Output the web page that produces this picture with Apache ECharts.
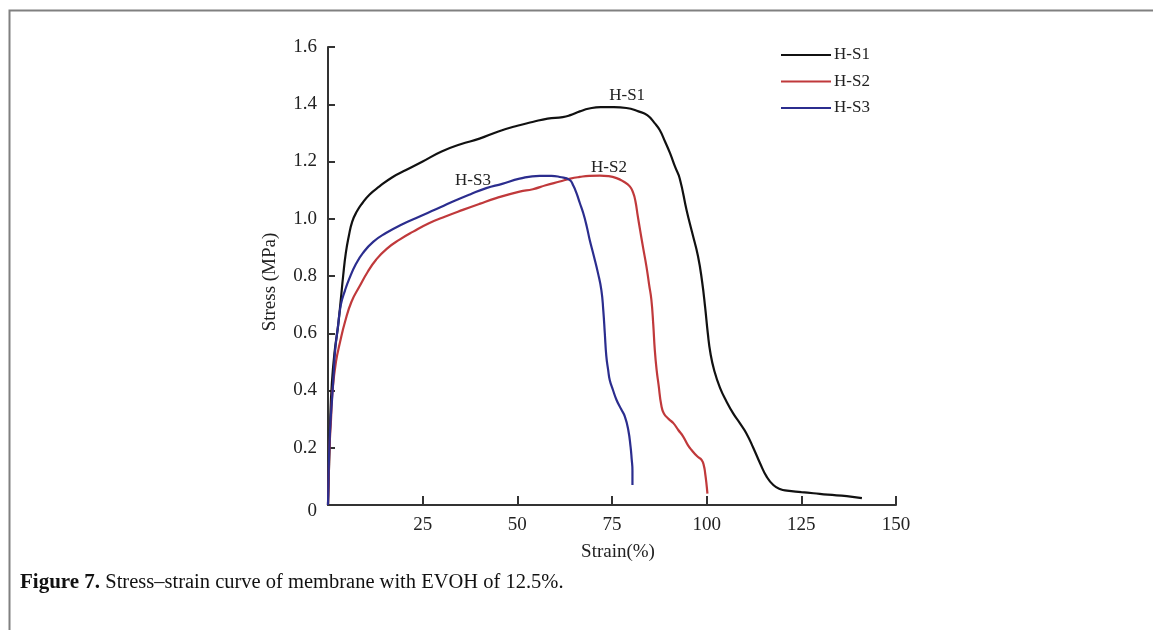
<!DOCTYPE html>
<html>
<head>
<meta charset="utf-8">
<script src="https://cdn.jsdelivr.net/npm/echarts@6.0.0/dist/echarts.min.js"></script>
<style>
  html, body { margin: 0; padding: 0; background: #fff; }
  #chart { width: 1153px; height: 630px; }
</style>
</head>
<body>
<div id="chart"></div>
<script>
// strain (%) vs stress (MPa)
const hs1 = [
  [0, 0], [0.3, 0.15], [0.6, 0.3], [1.0, 0.42], [1.7, 0.53], [2.7, 0.63], [3.4, 0.72],
  [4.0, 0.8], [4.7, 0.88], [5.5, 0.94], [6.4, 0.99], [7.6, 1.025], [9.1, 1.055], [11, 1.085],
  [13.6, 1.113], [17, 1.145], [20.6, 1.17], [25, 1.2], [30, 1.235], [35, 1.26], [40, 1.28],
  [45, 1.305], [50, 1.325], [54, 1.338], [58, 1.35], [62, 1.355], [64, 1.362], [66.5, 1.375],
  [69, 1.385], [72, 1.39], [75.5, 1.39], [78.8, 1.387], [82, 1.375], [84.3, 1.362],
  [86.2, 1.335], [87.6, 1.31], [89, 1.27], [90.3, 1.23], [91.7, 1.18], [92.9, 1.14],
  [94.7, 1.03], [96.2, 0.95], [97.7, 0.87], [98.8, 0.78], [99.6, 0.69], [100.3, 0.6],
  [101, 0.53], [102, 0.47], [103.5, 0.41], [105.3, 0.36], [107, 0.32], [108.8, 0.285],
  [110.5, 0.25], [112.3, 0.2], [114.1, 0.146], [115.8, 0.1], [117.6, 0.07], [119.5, 0.055],
  [121.2, 0.05], [125, 0.045], [128.2, 0.041], [132, 0.036], [137, 0.031], [141, 0.024]
];
const hs2 = [
  [0, 0], [0.2, 0.1], [0.4, 0.2], [0.8, 0.3], [1.2, 0.4], [2.1, 0.5], [3.2, 0.57],
  [4.5, 0.64], [6.2, 0.71], [8.3, 0.763], [10.5, 0.815], [12.7, 0.857], [15.5, 0.895],
  [18.9, 0.927], [22.5, 0.955], [26.8, 0.985], [31, 1.008], [35.6, 1.031], [40, 1.052],
  [44.4, 1.072], [50.6, 1.095], [54.1, 1.103], [57.5, 1.117], [61.2, 1.13], [64, 1.14],
  [66.5, 1.146], [69, 1.15], [71.8, 1.151], [74, 1.149], [76.2, 1.142], [78, 1.13],
  [79.7, 1.113], [80.6, 1.09], [81.2, 1.06], [81.8, 1.01], [82.4, 0.962], [83.2, 0.9],
  [84.1, 0.833], [84.8, 0.77], [85.4, 0.717], [85.9, 0.63], [86.3, 0.542], [86.8, 0.47],
  [87.3, 0.42], [88, 0.35], [88.7, 0.32], [90, 0.3], [91.2, 0.286], [92.5, 0.262],
  [93.8, 0.239], [95, 0.21], [96, 0.192], [97.5, 0.17], [98.7, 0.157], [99.3, 0.135],
  [99.6, 0.111], [99.9, 0.08], [100.2, 0.04]
];
const hs3 = [
  [0, 0], [0.15, 0.1], [0.35, 0.2], [0.7, 0.3], [1.06, 0.367], [1.5, 0.46], [1.9, 0.542],
  [2.6, 0.62], [3.4, 0.7], [4.5, 0.75], [5.6, 0.79], [7.3, 0.84], [9.2, 0.88], [12, 0.92],
  [15.3, 0.95], [19.5, 0.98], [24.2, 1.008], [28.5, 1.033], [33, 1.06], [37.5, 1.085],
  [41.8, 1.107], [46, 1.122], [50.6, 1.14], [55.9, 1.15], [59, 1.15], [61.2, 1.146],
  [63.8, 1.136], [64.8, 1.115], [65.6, 1.09], [66.5, 1.055], [67.4, 1.02], [68.3, 0.975],
  [69.1, 0.927], [70.2, 0.87], [71.3, 0.81], [72.2, 0.75], [72.7, 0.68], [73.1, 0.6],
  [73.5, 0.52], [74, 0.47], [74.4, 0.437], [75.3, 0.4], [76.2, 0.367], [77.4, 0.335],
  [78.4, 0.309], [79.3, 0.262], [79.9, 0.204], [80.2, 0.16], [80.4, 0.12], [80.4, 0.07]
];

const seriesNames = ["H-S1", "H-S2", "H-S3"];
const seriesColors = ["#111111", "#c0393b", "#2b2d8e"];
// in-plot labels: [strain, stress]
const labelPos = [[79.0, 1.43], [74.2, 1.18], [38.3, 1.133]];

const serif = "'Liberation Serif', 'DejaVu Serif', serif";
const chart = echarts.init(document.getElementById("chart"));

const series = [hs1, hs2, hs3].map((data, i) => ({
  name: seriesNames[i],
  type: "line",
  data,
  smooth: 0.5,
  showSymbol: false,
  symbol: "none",
  lineStyle: { color: seriesColors[i], width: 2.2 },
  itemStyle: { color: seriesColors[i] },
  markPoint: {
    symbol: "rect",
    symbolSize: 1,
    silent: true,
    itemStyle: { color: "rgba(0,0,0,0)" },
    data: [{ coord: labelPos[i], value: seriesNames[i] }],
    label: {
      show: true,
      formatter: seriesNames[i],
      position: "inside",
      color: "#222",
      fontFamily: serif,
      fontSize: 17,
    },
  },
}));

chart.setOption({
  backgroundColor: "#fff",
  animation: false,
  grid: { left: 328, top: 47, width: 568, height: 458 },
  legend: {
    orient: "vertical",
    left: 776,
    top: 40,
    icon: "rect",
    itemWidth: 50,
    itemHeight: 2,
    itemGap: 6.5,
    data: seriesNames,
    textStyle: { fontFamily: serif, fontSize: 17, color: "#222", lineHeight: 20, padding: [0, 0, 0, -2] },
  },
  xAxis: {
    type: "value",
    min: 0,
    max: 150,
    interval: 25,
    name: "Strain(%)",
    nameLocation: "middle",
    nameGap: 38,
    nameTextStyle: { fontFamily: serif, fontSize: 19, color: "#222", padding: [0, 0, 0, 12] },
    splitLine: { show: false },
    axisLine: { lineStyle: { color: "#333", width: 2 } },
    axisTick: { inside: true, length: 9, lineStyle: { color: "#333", width: 2 } },
    axisLabel: {
      fontFamily: serif, fontSize: 19, color: "#222", margin: 11,
      formatter: (v) => (v === 0 ? "" : String(v)),
    },
  },
  yAxis: {
    type: "value",
    min: 0,
    max: 1.6,
    interval: 0.2,
    name: "Stress (MPa)",
    nameLocation: "middle",
    nameGap: 48,
    nameRotate: 90,
    nameTextStyle: { fontFamily: serif, fontSize: 19, color: "#222", padding: [0, 12, 0, 0] },
    splitLine: { show: false },
    axisLine: { show: true, lineStyle: { color: "#333", width: 2 } },
    axisTick: { show: true, inside: true, length: 7, lineStyle: { color: "#333", width: 2 } },
    axisLabel: {
      fontFamily: serif, fontSize: 19, color: "#222", margin: 11,
      formatter: (v) => (v === 0 ? "{z|0}" : v.toFixed(1)),
      rich: { z: { fontFamily: serif, fontSize: 19, color: "#222", padding: [12, 0, 0, 0] } },
    },
  },
  graphic: [
    {
      type: "polyline",
      silent: true,
      shape: { points: [[9.5, 630], [9.5, 10.5], [1153, 10.5]] },
      style: { stroke: "#808080", lineWidth: 2, fill: null },
    },
    {
      type: "text",
      left: 20,
      top: 572,
      style: {
        text: "{b|Figure 7.} Stress–strain curve of membrane with EVOH of 12.5%.",
        rich: {
          b: { fontFamily: serif, fontSize: 21, fontWeight: "bold", fill: "#111" },
        },
        fontFamily: serif,
        fontSize: 20.5,
        fill: "#111",
      },
    },
  ],
  series,
});
</script>
</body>
</html>
